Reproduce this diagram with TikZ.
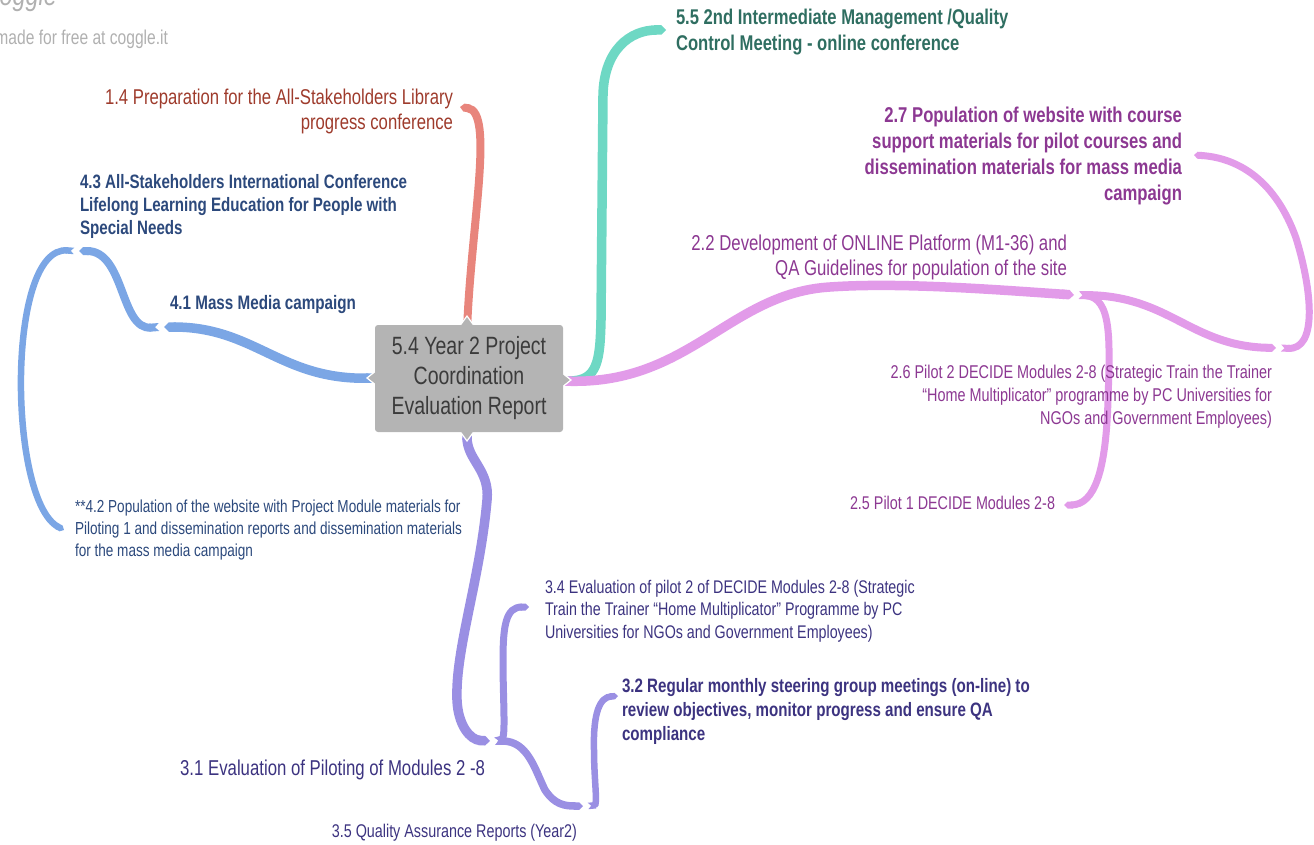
\documentclass[tikz,border=0pt]{standalone}
\usepackage{fontspec}
\setmainfont[FakeStretch=0.78]{Liberation Sans}
\usetikzlibrary{arrows.meta}
\definecolor{redbr}{HTML}{E8857C}
\definecolor{redtx}{HTML}{9E3B2C}
\definecolor{tealbr}{HTML}{6ED8C4}
\definecolor{tealtx}{HTML}{2F6E61}
\definecolor{pinkbr}{HTML}{E29BE9}
\definecolor{pinktx}{HTML}{8C3892}
\definecolor{bluebr}{HTML}{7BA6E5}
\definecolor{bluetx}{HTML}{2C497C}
\definecolor{purpbr}{HTML}{9A8FE3}
\definecolor{purptx}{HTML}{3C3380}
\definecolor{boxgray}{HTML}{B4B4B4}
\definecolor{boxtx}{HTML}{3B3B3B}
\definecolor{wmgray}{HTML}{B0B0B0}
\newcommand\fsz[2]{\fontsize{#1}{#2}\selectfont}
\tikzset{
  lbl/.style={inner sep=0pt, outer sep=0pt},
  branch/.style={line cap=butt, {Triangle Cap[reversed]}-{Triangle Cap[]}},
  tipshape/.style={fill=boxgray, draw=white, line width=1.2pt, line join=miter},
}
\begin{document}
\begin{tikzpicture}[x=1pt,y=-1pt]
\useasboundingbox (0,0) rectangle (1314,845);

% anchors
\coordinate (cT) at (467,330);
\coordinate (cB) at (467,428);
\coordinate (cL) at (378,378);
\coordinate (cR) at (560,381);
\coordinate (a14) at (460,107);
\coordinate (a55) at (666,30);
\coordinate (a22) at (1074,295);
\coordinate (a22o) at (1079,295);
\coordinate (a26) at (1276,348);
\coordinate (a26o) at (1281,348);
\coordinate (a27) at (1194,155);
\coordinate (a25) at (1064,505);
\coordinate (a41) at (164,327);
\coordinate (a41o) at (159,327);
\coordinate (a43) at (79,251);
\coordinate (a43o) at (74,251);
\coordinate (a42) at (64,530);
\coordinate (a31) at (490,741);
\coordinate (a31o) at (495,741);
\coordinate (a34) at (529,607);
\coordinate (a35) at (583,806);
\coordinate (a35o) at (588,806);
\coordinate (a32) at (618,696);

% red
\draw[branch, redbr, line width=8pt] (cT) .. controls (472,220) and (494,112) .. (a14);
% teal
\draw[branch, tealbr, line width=9.5pt] (cR) .. controls (598,381) and (600,360) .. (601,320) -- (603,95) .. controls (604,50) and (630,30) .. (a55);
% pink
\draw[branch, pinkbr, line width=9.5pt] (cR) .. controls (690,384) and (730,293) .. (830,287) .. controls (900,282) and (1000,290) .. (a22);
\draw[branch, pinkbr, line width=7pt] (a22o) .. controls (1112,298) and (1110,340) .. (1108,400) .. controls (1106,470) and (1095,505) .. (a25);
\draw[branch, pinkbr, line width=8pt] (a22o) .. controls (1170,296) and (1190,346) .. (a26);
\draw[branch, pinkbr, line width=7pt] (a26o) .. controls (1318,350) and (1312,290) .. (1296,238) .. controls (1276,182) and (1240,158) .. (a27);
% blue
\draw[branch, bluebr, line width=9.5pt] (cL) .. controls (280,380) and (255,327) .. (a41);
\draw[branch, bluebr, line width=8pt] (a41o) .. controls (120,330) and (125,251) .. (a43);
\draw[branch, bluebr, line width=6.5pt] (a43o) .. controls (6,245) and (8,500) .. (a42);
% purple
\draw[branch, purpbr, line width=9.5pt] (cB) .. controls (467,460) and (490,470) .. (487,500) .. controls (480,580) and (455,650) .. (457,700) .. controls (458,725) and (470,740) .. (a31);
\draw[branch, purpbr, line width=7pt] (a31o) .. controls (506,738) and (503,700) .. (503,660) .. controls (503,625) and (506,607) .. (a34);
\draw[branch, purpbr, line width=7.5pt] (a31o) .. controls (528,741) and (535,770) .. (545,790) .. controls (555,805) and (565,806) .. (a35);
\draw[branch, purpbr, line width=6.5pt] (a35o) .. controls (598,805) and (594,780) .. (594,750) .. controls (593,712) and (600,697) .. (a32);

% central node tips
\draw[tipshape] (459,327) -- (467,316) -- (475,327);
\draw[tipshape] (459,430) -- (467,441) -- (475,430);
\draw[tipshape] (377,370) -- (367,378) -- (377,386);
\draw[tipshape] (561,372) -- (571,380) -- (561,388);
\node[lbl, fill=boxgray, rounded corners=3pt, minimum width=188pt, minimum height=107pt, text=boxtx, align=center, font=\fsz{25}{30}] (c) at (469,378.5) {5.4 Year 2 Project\\Coordination\\Evaluation Report};

% labels
\node[lbl, anchor=north east, align=right, text=redtx, font=\fsz{21.4}{25}] (n14) at (453,88.9) {1.4 Preparation for the All-Stakeholders Library\\progress conference};
\node[lbl, anchor=north west, align=left, text=tealtx, font=\bfseries\fsz{21.3}{26}] (n55) at (676,8.9) {5.5 2nd Intermediate Management /Quality\\Control Meeting - online conference};
\node[lbl, anchor=north east, align=right, text=pinktx, font=\bfseries\fsz{21.4}{26}] (n27) at (1182,106.9) {2.7 Population of website with course\\support materials for pilot courses and\\dissemination materials for mass media\\campaign};
\node[lbl, anchor=north east, align=right, text=pinktx, font=\fsz{21.5}{25}] (n22) at (1067,234.8) {2.2 Development of ONLINE Platform (M1-36) and\\QA Guidelines for population of the site};
\node[lbl, anchor=north east, align=right, text=pinktx, font=\fsz{18.5}{23}] (n26) at (1272,365) {2.6 Pilot 2 DECIDE Modules 2-8 (Strategic Train the Trainer\\“Home Multiplicator” programme by PC Universities for\\NGOs and Government Employees)};
\node[lbl, anchor=north east, text=pinktx, font=\fsz{18.4}{22}] (n25) at (1055,496) {2.5 Pilot 1 DECIDE Modules 2-8};
\node[lbl, anchor=north west, align=left, text=bluetx, font=\bfseries\fsz{19.4}{23}] (n43) at (80,174.6) {4.3 All-Stakeholders International Conference\\Lifelong Learning Education for People with\\Special Needs};
\node[lbl, anchor=north west, text=bluetx, font=\bfseries\fsz{19.5}{23}] (n41) at (170,295.6) {4.1 Mass Media campaign};
\node[lbl, anchor=north west, align=left, text=bluetx, font=\fsz{17.4}{22}] (n42) at (75,499.4) {**4.2 Population of the website with Project Module materials for\\Piloting 1 and dissemination reports and dissemination materials\\for the mass media campaign};
\node[lbl, anchor=north west, align=left, text=purptx, font=\fsz{18.3}{22.5}] (n34) at (545,580) {3.4 Evaluation of pilot 2 of DECIDE Modules 2-8 (Strategic\\Train the Trainer “Home Multiplicator” Programme by PC\\Universities for NGOs and Government Employees)};
\node[lbl, anchor=north west, align=left, text=purptx, font=\bfseries\fsz{19.4}{24}] (n32) at (622,678.6) {3.2 Regular monthly steering group meetings (on-line) to\\review objectives, monitor progress and ensure QA\\compliance};
\node[lbl, anchor=north east, text=purptx, font=\fsz{21.5}{25}] (n31) at (485,759.8) {3.1 Evaluation of Piloting of Modules 2 -8};
\node[lbl, anchor=north east, text=purptx, font=\fsz{18.4}{22}] (n35) at (577,824) {3.5 Quality Assurance Reports (Year2)};

% watermark
\node[lbl, anchor=north east, text=wmgray, font=\fsz{20}{22}] (wm) at (168,30.4) {made for free at coggle.it};
\node[lbl, anchor=base west, text=wmgray, font=\itshape\fsz{30}{30}] (logo) at (-12,6) {coggle};
\end{tikzpicture}
\end{document}
